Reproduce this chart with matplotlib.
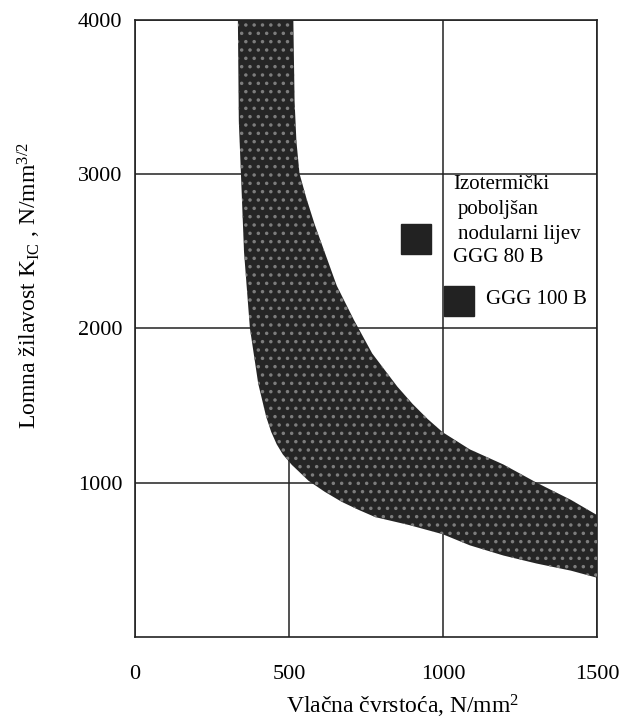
import matplotlib
matplotlib.use('Agg')
import matplotlib.pyplot as plt

plt.rcParams['font.family'] = ['Liberation Serif', 'DejaVu Serif']
plt.rcParams['hatch.linewidth'] = 1.3
plt.rcParams['mathtext.fontset'] = 'custom'
plt.rcParams['mathtext.rm'] = 'Liberation Serif'
plt.rcParams['mathtext.it'] = 'Liberation Serif'

# upper (right) edge of the band
upper_x = [514, 518, 524, 534, 557, 583, 616, 655, 711, 770, 852, 901, 950, 999, 1087, 1196, 1304, 1415, 1500]
upper_y = [4000, 3475, 3213, 3004, 2840, 2676, 2493, 2277, 2054, 1838, 1622, 1511, 1413, 1327, 1216, 1118, 1000, 889, 790]
# lower (left) edge of the band
lower_x = [334, 337, 344, 354, 373, 400, 426, 442, 460, 480, 508, 563, 616, 671, 727, 780, 891, 999, 1087, 1196, 1304, 1415, 1500]
lower_y = [4000, 3344, 2997, 2493, 2002, 1642, 1426, 1330, 1249, 1183, 1118, 1013, 941, 876, 823, 777, 725, 666, 594, 528, 476, 430, 384]

# isothermally treated nodular cast iron grades
grade_x = [911, 1051]
grade_y = [2578, 2179]

x_ticks = [0, 500, 1000, 1500]
y_ticks = [1000, 2000, 3000, 4000]

fig = plt.figure(figsize=(6.27, 7.26), dpi=100)
ax = fig.add_axes([0.2153, 0.1226, 0.737, 0.85])

# band polygon: lower edge going down, upper edge coming back up
poly_x = lower_x + upper_x[::-1]
poly_y = lower_y + upper_y[::-1]
ax.fill(poly_x, poly_y, color='#252525', lw=0, zorder=2)
ax.fill(poly_x, poly_y, facecolor='none', edgecolor='#7d7d7d', hatch='..', lw=0, zorder=3)

ax.plot(grade_x, grade_y, 's', ms=21, color='#222222', zorder=4)

ax.set_xlim(0, 1500)
ax.set_ylim(0, 4000)
ax.set_xticks(x_ticks)
ax.set_yticks(y_ticks)
ax.tick_params(length=0, labelsize=16)
ax.tick_params(axis='x', pad=20)
ax.tick_params(axis='y', pad=9)
ax.grid(True, color='#222222', lw=1.1, zorder=1)
ax.set_axisbelow(True)
for s in ax.spines.values():
    s.set_linewidth(1.2)
    s.set_color('#222222')

ax.set_xlabel('Vlačna čvrstoća, N/mm$^2$', fontsize=17, va='center')
ax.xaxis.set_label_coords(0.58, -0.113)
ax.set_ylabel('Lomna žilavost K$_{IC}$ , N/mm$^{3/2}$', fontsize=17, va='center')
ax.yaxis.set_label_coords(-0.229, 0.57)

fs = 15
ax.text(1032, 2932, 'Izotermički', fontsize=fs, va='center', zorder=5)
ax.text(1048, 2768, 'poboljšan', fontsize=fs, va='center', zorder=5)
ax.text(1048, 2611, 'nodularni lijev', fontsize=fs, va='center', zorder=5)
ax.text(1032, 2460, 'GGG 80 B', fontsize=fs, va='center', zorder=5)
ax.text(1140, 2185, 'GGG 100 B', fontsize=fs, va='center', zorder=5)

fig.savefig('out.png', dpi=100)
